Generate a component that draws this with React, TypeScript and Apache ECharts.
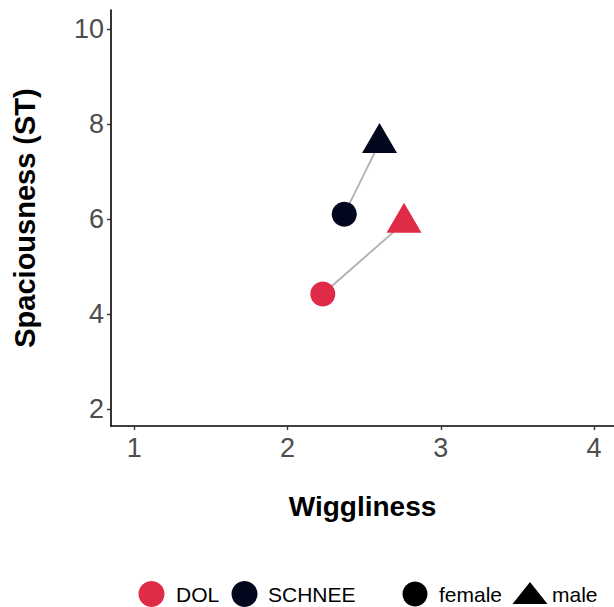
import React, { useEffect, useRef } from "react";
import * as echarts from "echarts";

const populations = ["DOL", "SCHNEE"];
const popColors = ["#DF2A48", "#03071E"];
const femaleWiggliness = [2.23, 2.37];
const femaleSpaciousness = [4.42, 6.1];
const maleWiggliness = [2.76, 2.6];
const maleSpaciousness = [5.92, 7.6];
const xTicks = [1, 2, 3, 4];
const yTicks = [2, 4, 6, 8, 10];
const sexes = ["female", "male"];

const FONT = "Liberation Sans, Arial, sans-serif";

export default function App() {
  const ref = useRef<HTMLDivElement>(null);
  useEffect(() => {
    if (!ref.current) return;
    const chart = echarts.init(ref.current, undefined, { renderer: "svg" });
    const lineSeries = populations.map((p, i) => ({
      type: "line",
      name: p + "-link",
      data: [
        [femaleWiggliness[i], femaleSpaciousness[i]],
        [maleWiggliness[i], maleSpaciousness[i]],
      ],
      symbol: "none",
      lineStyle: { color: "#B0B0B0", width: 1.8 },
      z: 1,
      silent: true,
    }));
    const femaleSeries = {
      type: "scatter",
      name: "female",
      symbol: "circle",
      symbolSize: 25,
      data: populations.map((p, i) => ({
        value: [femaleWiggliness[i], femaleSpaciousness[i]],
        itemStyle: { color: popColors[i], opacity: 1 },
      })),
      z: 3,
    };
    const maleSeries = {
      type: "scatter",
      name: "male",
      symbol: "triangle",
      symbolSize: [35, 30],
      symbolOffset: [0, -5],
      data: populations.map((p, i) => ({
        value: [maleWiggliness[i], maleSpaciousness[i]],
        itemStyle: { color: popColors[i], opacity: 1 },
      })),
      z: 3,
    };

    const ly = 594;
    const legendText = (x: number, t: string) => ({
      type: "text",
      x,
      y: ly,
      style: { text: t, font: `21px ${FONT}`, fill: "#000", verticalAlign: "middle", textAlign: "left" },
    });
    const graphic: any[] = [
      { type: "circle", shape: { cx: 151.5, cy: ly, r: 13 }, style: { fill: popColors[0] } },
      legendText(176, populations[0]),
      { type: "circle", shape: { cx: 244.5, cy: ly, r: 13 }, style: { fill: popColors[1] } },
      legendText(268, populations[1]),
      { type: "circle", shape: { cx: 415, cy: ly, r: 12.5 }, style: { fill: "#000" } },
      legendText(439, sexes[0]),
      {
        type: "polygon",
        shape: { points: [[530, 582], [547.5, 604], [512.5, 604]] },
        style: { fill: "#000" },
      },
      legendText(552, sexes[1]),
    ];

    chart.setOption({
      animation: false,
      backgroundColor: "#fff",
      grid: { left: 111, top: 10, right: 0, bottom: 181, containLabel: false },
      xAxis: {
        type: "value",
        min: 0.848,
        max: 4.13,
        interval: 1,
        name: "Wiggliness",
        nameLocation: "middle",
        nameGap: 66,
        nameTextStyle: { fontFamily: FONT, fontWeight: "bold", fontSize: 28, color: "#000" },
        axisLine: { show: true, onZero: false, lineStyle: { color: "#000", width: 1.6 } },
        axisTick: { show: true, length: 4, lineStyle: { color: "#333", width: 1.4 }, customValues: xTicks },
        axisLabel: {
          fontFamily: FONT,
          fontSize: 27,
          color: "#4D4D4D",
          margin: 8,
          customValues: xTicks,
        },
        splitLine: { show: false },
      },
      yAxis: {
        type: "value",
        min: 1.64,
        max: 10.4,
        name: "Spaciousness (ST)",
        nameLocation: "middle",
        nameGap: 72,
        nameTextStyle: { fontFamily: FONT, fontWeight: "bold", fontSize: 29, color: "#000" },
        axisLine: { show: true, onZero: false, lineStyle: { color: "#000", width: 1.6 } },
        axisTick: { show: true, length: 4, lineStyle: { color: "#333", width: 1.4 }, customValues: yTicks },
        axisLabel: {
          fontFamily: FONT,
          fontSize: 27,
          color: "#4D4D4D",
          margin: 7,
          customValues: yTicks,
        },
        splitLine: { show: false },
      },
      series: [...lineSeries, femaleSeries, maleSeries],
      graphic,
    });
    return () => chart.dispose();
  }, []);
  return <div ref={ref} style={{ width: 614, height: 607, position: "absolute", left: 0, top: 0 }} />;
}
